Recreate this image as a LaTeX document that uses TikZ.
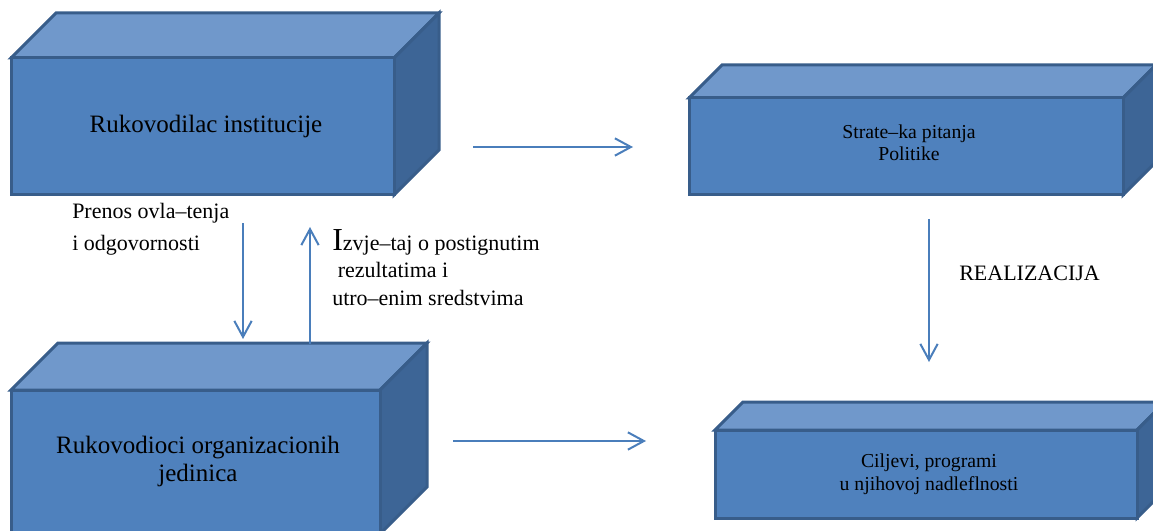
\documentclass[tikz,border=0pt]{standalone}
\usepackage{fontspec}
\setmainfont{Liberation Serif}
\usetikzlibrary{arrows.meta,fit,backgrounds}

\definecolor{boxfront}{HTML}{4F81BD}
\definecolor{boxtop}{HTML}{7098CB}
\definecolor{boxside}{HTML}{3D6596}
\definecolor{boxedge}{HTML}{385D8A}
\definecolor{linkblue}{HTML}{4A7EBB}

\tikzset{
  front/.style={draw=boxedge, fill=boxfront, line width=2.25pt, inner sep=0pt,
    outer sep=0pt},
  topface/.style={draw=boxedge, fill=boxtop, line width=2.25pt},
  sideface/.style={draw=boxedge, fill=boxside, line width=2.25pt},
  link/.style={draw=linkblue, line width=1.5pt,
    -{Straight Barb[length=12pt,width=13pt,line width=1.5pt]}},
  caption/.style={anchor=base west, inner sep=0pt, align=left},
  boxlabel/.style={anchor=base, inner sep=0pt, align=center},
  bigtext/.style={font=\fontsize{18.75}{21}\selectfont},
  smalltext/.style={font=\fontsize{14.8}{17}\selectfont},
}

% top and right faces of a cuboid behind the front node #1, depth #2
\newcommand\cuboidfaces[2]{%
  \begin{scope}[on background layer]
    \clip (0,0) rectangle (1153,531);
    \draw[topface] (#1.north west) -- ++(#2,-#2)
      -- ([shift={(#2,-#2)}]#1.north east) -- (#1.north east) -- cycle;
    \draw[sideface] (#1.north east) -- ++(#2,-#2)
      -- ([shift={(#2,-#2)}]#1.south east) -- (#1.south east) -- cycle;
  \end{scope}}

\begin{document}
\begin{tikzpicture}[x=0.75pt,y=-0.75pt]
\useasboundingbox (0,0) rectangle (1153,531);

% boxes (front faces, then the faces behind them)
\node[front, fit={(11,58) (394,195)}] (head) {};
\cuboidfaces{head}{45}
\node[front, fit={(689,98) (1123,195)}] (strategy) {};
\cuboidfaces{strategy}{33}
\node[front, fit={(11,390) (380,534)}] (units) {};
\cuboidfaces{units}{47}
\node[front, fit={(715,430) (1137,518)}] (goals) {};
\cuboidfaces{goals}{28}

% box texts (anchored at the baseline of their last line)
\node[boxlabel, bigtext] (headtext) at (206,133) {Rukovodilac institucije};
\node[boxlabel, smalltext] (strategytext) at (909,161) {Strate–ka pitanja\\Politike};
\node[boxlabel, bigtext] (unitstext) at (198,481) {Rukovodioci organizacionih\\jedinica};
\node[boxlabel, smalltext] (goalstext) at (929,490) {Ciljevi, programi\\u njihovoj nadleflnosti};

% labels
\node[caption, font=\fontsize{16.5}{24}\selectfont] (grant) at (72,250)
  {Prenos ovla–tenja\\i odgovornosti};
\node[caption, font=\fontsize{16.5}{20.6}\selectfont] (report) at (332,305)
  {{\fontsize{24}{24}\selectfont I}zvje–taj o postignutim\\~rezultatima i\\utro–enim sredstvima};
\node[caption, font=\fontsize{16.5}{20}\selectfont] (realiz) at (959,280) {REALIZACIJA};

% connector ends
\coordinate (topL) at (473,147);   \coordinate (topR) at (633,147);
\coordinate (botL) at (453,441);   \coordinate (botR) at (646,441);
\coordinate (downA) at (243,223);  \coordinate (downB) at (243,339);
\coordinate (upA) at (310,344);    \coordinate (upB) at (310,227);
\coordinate (realA) at (929,219);  \coordinate (realB) at (929,362);

% connectors
\draw[link] (topL) -- (topR);
\draw[link] (botL) -- (botR);
\draw[link] (downA) -- (downB);
\draw[link] (upA) -- (upB);
\draw[link] (realA) -- (realB);
\end{tikzpicture}
\end{document}
